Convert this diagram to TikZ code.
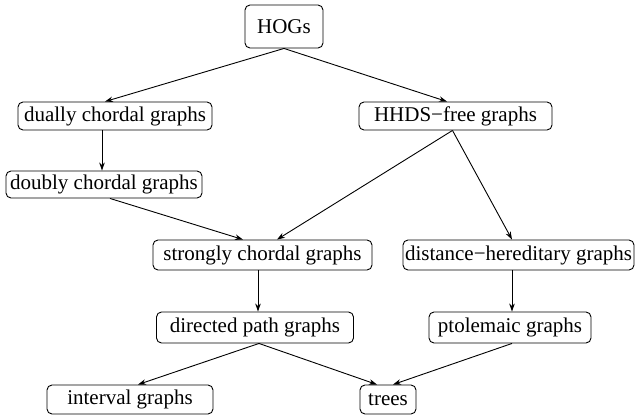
\documentclass[tikz,border=0pt]{standalone}
\usepackage{fontspec}
\setmainfont{Liberation Serif}
\usetikzlibrary{arrows.meta}

\begin{document}
\begin{tikzpicture}[x = 1pt, y = -1pt, line width = .9pt, >={Stealth[length = 8pt, width = 5.5pt]},
    every node/.style = { draw, rounded corners = 5pt, inner sep = 0pt, minimum height = 29pt,
      font = \fontsize{21}{24}\selectfont }]
      \useasboundingbox (0,0) rectangle (635,420);

      \node [minimum width = 78pt, minimum height = 43pt] (hogs) at (284,26.5) { HOGs };
      \node [minimum width = 194pt, minimum height = 28pt] (dually) at (115,116) { dually chordal graphs };
      \node [minimum width = 193pt, minimum height = 28pt] (hhds) at (455.5,116) { HHDS−free graphs };
      \node [minimum width = 196pt, minimum height = 27pt] (doubly) at (104,184.5) { doubly chordal graphs };
      \node [minimum width = 219pt, minimum height = 30pt] (strongly) at (262.5,255) { strongly chordal graphs };
      \node [minimum width = 231pt, minimum height = 30pt] (distance) at (518.5,255) { distance−hereditary graphs };
      \node [minimum width = 197pt, minimum height = 31pt] (directed) at (255,327.5) { directed path graphs };
      \node [minimum width = 162pt, minimum height = 31pt] (ptolemaic) at (510,327.5) { ptolemaic graphs };
      \node [minimum width = 166pt] (interval) at (130,399.5) { interval graphs };
      \node [minimum width = 56pt] (trees) at (388,399.5) { trees };

      \draw [->] (hogs.south) -- ([xshift = -10pt]dually.north);
      \draw [->] (hogs.south) -- ([xshift = -8.5pt]hhds.north);
      \draw [->] ([xshift = -2pt]doubly.north |- dually.south) -- ([xshift = -2pt]doubly.north);
      \draw [->] ([xshift = 6pt]doubly.south) -- ([xshift = -19.5pt]strongly.north);
      \draw [->] ([xshift = -3pt]hhds.south) -- ([xshift = 14.5pt]strongly.north);
      \draw [->] ([xshift = -3pt]hhds.south) -- ([xshift = -6.5pt]distance.north);
      \draw [->] ([xshift = -4.5pt]strongly.south) -- ([xshift = -4.5pt]strongly.south |- directed.north);
      \draw [->] ([xshift = -6.5pt]distance.south) -- ([xshift = -6.5pt]distance.south |- ptolemaic.north);
      \draw [->] ([xshift = 4pt]directed.south) -- ([xshift = 8pt]interval.north);
      \draw [->] ([xshift = 4pt]directed.south) -- ([xshift = -11pt]trees.north);
      \draw [->] ([xshift = 2pt]ptolemaic.south) -- ([xshift = 5pt]trees.north);

\end{tikzpicture}
\end{document}
